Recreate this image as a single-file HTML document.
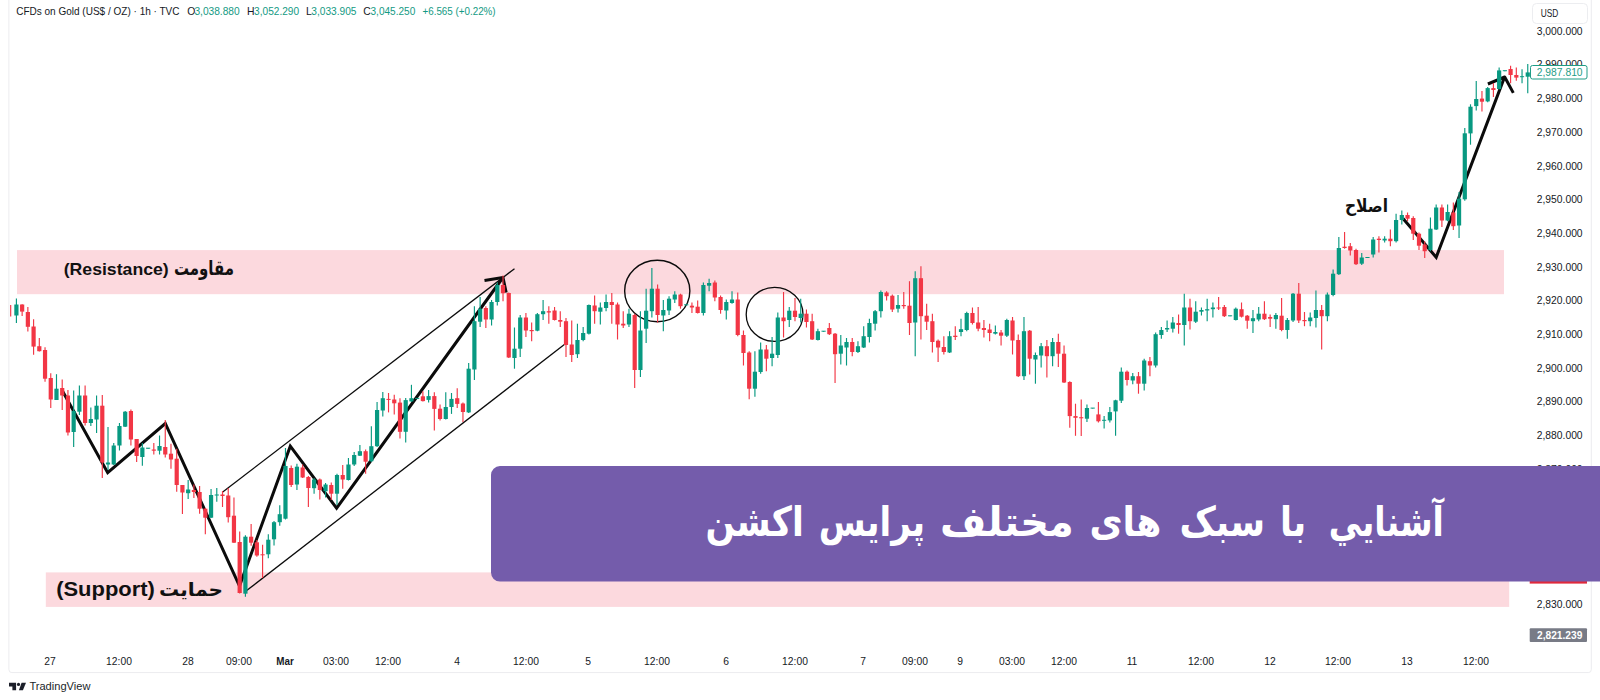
<!DOCTYPE html>
<html lang="fa">
<head>
<meta charset="utf-8">
<title>آشنایی با سبک های مختلف پرایس اکشن</title>
<style>
html,body{margin:0;padding:0;background:#fff;}
body{width:1600px;height:700px;overflow:hidden;position:relative;font-family:"Liberation Sans","DejaVu Sans",sans-serif;}
svg{position:absolute;left:0;top:0;}
text{font-family:"Liberation Sans","DejaVu Sans",sans-serif;}
.ax{font-size:10.3px;fill:#151924;}
.tm{font-size:10.3px;fill:#151924;text-anchor:middle;}
.ttl{font-size:10.4px;fill:#151924;}
.gv{fill:#139a83;}
.lbl{font-size:17px;font-weight:bold;fill:#111;}
.fa{font-family:"DejaVu Sans","Liberation Sans",sans-serif;}
</style>
</head>
<body>
<svg width="1600" height="700" viewBox="0 0 1600 700">
<rect width="1600" height="700" fill="#fff"/>
<!-- frame lines -->
<rect x="8.9" y="-6" width="1582.4" height="678.6" rx="3" fill="none" stroke="#ececef" stroke-width="1"/>
<!-- zones -->
<rect x="17" y="250.1" width="1487" height="44.1" fill="#fcd9de"/>
<rect x="45.8" y="572.4" width="1463.4" height="34.5" fill="#fcd9de"/>
<!-- title -->
<g class="ttl">
<text x="16.2" y="15" textLength="163.3" lengthAdjust="spacingAndGlyphs">CFDs on Gold (US$ / OZ) · 1h · TVC</text>
<text x="187.3" y="15">O</text><text class="gv" x="194.4" y="15" textLength="45.3" lengthAdjust="spacingAndGlyphs">3,038.880</text>
<text x="247" y="15">H</text><text class="gv" x="254.1" y="15" textLength="45" lengthAdjust="spacingAndGlyphs">3,052.290</text>
<text x="306.1" y="15">L</text><text class="gv" x="311.3" y="15" textLength="45.2" lengthAdjust="spacingAndGlyphs">3,033.905</text>
<text x="363.3" y="15">C</text><text class="gv" x="370.5" y="15" textLength="44.8" lengthAdjust="spacingAndGlyphs">3,045.250</text>
<text class="gv" x="422.5" y="15" textLength="73.1" lengthAdjust="spacingAndGlyphs">+6.565 (+0.22%)</text>
</g>
<!-- USD box -->
<rect x="1532.5" y="3.5" width="55" height="20" rx="4" fill="#fff" stroke="#ecedf0"/>
<text class="ax" x="1540.7" y="17.2" textLength="17.6" lengthAdjust="spacingAndGlyphs">USD</text>
<!-- price axis -->
<g class="ax" text-anchor="end">
<text x="1582.6" y="34.7">3,000.000</text>
<text x="1582.6" y="68.4">2,990.000</text>
<text x="1582.6" y="102.1">2,980.000</text>
<text x="1582.6" y="135.8">2,970.000</text>
<text x="1582.6" y="169.5">2,960.000</text>
<text x="1582.6" y="203.2">2,950.000</text>
<text x="1582.6" y="236.9">2,940.000</text>
<text x="1582.6" y="270.6">2,930.000</text>
<text x="1582.6" y="304.3">2,920.000</text>
<text x="1582.6" y="338">2,910.000</text>
<text x="1582.6" y="371.7">2,900.000</text>
<text x="1582.6" y="405.4">2,890.000</text>
<text x="1582.6" y="439.1">2,880.000</text>
<text x="1582.6" y="472.8">2,870.000</text>
<text x="1582.6" y="607.6">2,830.000</text>
</g>
<!-- time axis -->
<g class="tm">
<text x="50" y="665">27</text><text x="119" y="665">12:00</text><text x="188" y="665">28</text><text x="239" y="665">09:00</text>
<text x="285" y="665" style="font-weight:bold" textLength="17.5" lengthAdjust="spacingAndGlyphs">Mar</text><text x="336" y="665">03:00</text><text x="388" y="665">12:00</text><text x="457" y="665">4</text>
<text x="526" y="665">12:00</text><text x="588" y="665">5</text><text x="657" y="665">12:00</text><text x="726" y="665">6</text>
<text x="795" y="665">12:00</text><text x="863" y="665">7</text><text x="915" y="665">09:00</text><text x="960" y="665">9</text>
<text x="1012" y="665">03:00</text><text x="1064" y="665">12:00</text><text x="1132" y="665">11</text><text x="1201" y="665">12:00</text>
<text x="1270" y="665">12</text><text x="1338" y="665">12:00</text><text x="1407" y="665">13</text><text x="1476" y="665">12:00</text>
</g>
<g fill="none" stroke="#0b0b0b" stroke-linejoin="miter" stroke-linecap="butt">
<path d="M222.4 492.2L514.5 268.7" stroke-width="1.3"/>
<path d="M246 591.1L565 344" stroke-width="1.3"/>
<ellipse cx="657.25" cy="291" rx="32.6" ry="30.7" stroke-width="1.4"/>
<ellipse cx="774.6" cy="314.4" rx="28.4" ry="27" stroke-width="1.3"/>
<path d="M62.5 391L107.7 472.7L165.3 423.5L239.5 586L290.3 446.2L336.6 508.2L502.6 278" stroke-width="3"/>
<path d="M484.5 280.5L503 277.6L506.2 292.5" stroke-width="3" stroke-linejoin="round"/>
<path d="M1403 218.5L1436.2 257.3L1504.4 77.4" stroke-width="3"/>
<path d="M1487.9 84L1504.7 77L1513.3 92.9" stroke-width="3" stroke-linejoin="round"/>
</g>
<text class="lbl" x="63.7" y="274.9" style="font-size:16.5px" textLength="105" lengthAdjust="spacingAndGlyphs">(Resistance)</text>
<text class="lbl fa" x="174" y="275.4" style="font-size:20px" textLength="60" lengthAdjust="spacingAndGlyphs">مقاومت</text>
<text class="lbl" x="56.2" y="596.2" style="font-size:20.5px" textLength="98.7" lengthAdjust="spacingAndGlyphs">(Support)</text>
<text class="lbl fa" x="159" y="596" style="font-size:19px" textLength="64" lengthAdjust="spacingAndGlyphs">حمایت</text>
<text class="lbl fa" x="1345" y="212" style="font-size:17.8px" textLength="43" lengthAdjust="spacingAndGlyphs">اصلاح</text>
<!-- candles -->
<g shape-rendering="auto">
<path d="M10.69 305.0V316.4" stroke="#F23645" stroke-width="1.15"/>
<path d="M16.41 298.5V323.0" stroke="#089981" stroke-width="1.15"/>
<rect x="14.31" y="304.5" width="4.2" height="11.0" fill="#089981"/>
<path d="M22.14 304.2V316.0" stroke="#F23645" stroke-width="1.15"/>
<rect x="20.04" y="304.5" width="4.2" height="7.1" fill="#F23645"/>
<path d="M27.86 307.0V331.5" stroke="#F23645" stroke-width="1.15"/>
<rect x="25.76" y="312.0" width="4.2" height="14.8" fill="#F23645"/>
<path d="M33.59 319.2V354.7" stroke="#F23645" stroke-width="1.15"/>
<rect x="31.49" y="326.5" width="4.2" height="20.1" fill="#F23645"/>
<path d="M39.31 338.0V351.5" stroke="#F23645" stroke-width="1.15"/>
<rect x="37.21" y="346.2" width="4.2" height="5.0" fill="#F23645"/>
<path d="M45.04 347.2V381.7" stroke="#F23645" stroke-width="1.15"/>
<rect x="42.94" y="350.0" width="4.2" height="28.7" fill="#F23645"/>
<path d="M50.76 373.2V408.0" stroke="#F23645" stroke-width="1.15"/>
<rect x="48.66" y="378.0" width="4.2" height="21.5" fill="#F23645"/>
<path d="M56.49 374.2V400.0" stroke="#089981" stroke-width="1.15"/>
<rect x="54.39" y="388.7" width="4.2" height="11.3" fill="#089981"/>
<path d="M62.21 379.5V410.0" stroke="#F23645" stroke-width="1.15"/>
<rect x="60.11" y="388.0" width="4.2" height="7.5" fill="#F23645"/>
<path d="M67.94 390.0V435.5" stroke="#F23645" stroke-width="1.15"/>
<rect x="65.84" y="395.5" width="4.2" height="37.0" fill="#F23645"/>
<path d="M73.66 390.5V447.0" stroke="#089981" stroke-width="1.15"/>
<rect x="71.56" y="411.0" width="4.2" height="21.0" fill="#089981"/>
<path d="M79.39 385.5V415.0" stroke="#089981" stroke-width="1.15"/>
<rect x="77.29" y="395.5" width="4.2" height="16.2" fill="#089981"/>
<path d="M85.11 385.5V425.5" stroke="#F23645" stroke-width="1.15"/>
<rect x="83.01" y="395.5" width="4.2" height="27.5" fill="#F23645"/>
<path d="M90.84 407.5V426.0" stroke="#089981" stroke-width="1.15"/>
<rect x="88.74" y="419.0" width="4.2" height="4.0" fill="#089981"/>
<path d="M96.56 395.5V433.0" stroke="#089981" stroke-width="1.15"/>
<rect x="94.46" y="405.7" width="4.2" height="13.8" fill="#089981"/>
<path d="M102.29 395.0V478.0" stroke="#F23645" stroke-width="1.15"/>
<rect x="100.19" y="405.7" width="4.2" height="56.8" fill="#F23645"/>
<path d="M108.01 427.0V470.0" stroke="#089981" stroke-width="1.15"/>
<rect x="105.91" y="462.5" width="4.2" height="2.0" fill="#089981"/>
<path d="M113.74 443.0V465.0" stroke="#089981" stroke-width="1.15"/>
<rect x="111.64" y="445.5" width="4.2" height="19.0" fill="#089981"/>
<path d="M119.46 423.0V450.5" stroke="#089981" stroke-width="1.15"/>
<rect x="117.36" y="426.0" width="4.2" height="19.5" fill="#089981"/>
<path d="M125.19 411.0V427.0" stroke="#089981" stroke-width="1.15"/>
<rect x="123.09" y="411.7" width="4.2" height="15.0" fill="#089981"/>
<path d="M130.91 409.5V445.5" stroke="#F23645" stroke-width="1.15"/>
<rect x="128.81" y="411.0" width="4.2" height="28.5" fill="#F23645"/>
<path d="M136.64 439.0V462.0" stroke="#F23645" stroke-width="1.15"/>
<rect x="134.54" y="439.0" width="4.2" height="17.0" fill="#F23645"/>
<path d="M142.36 443.0V465.7" stroke="#089981" stroke-width="1.15"/>
<rect x="140.26" y="447.5" width="4.2" height="9.5" fill="#089981"/>
<path d="M148.09 448.0V448.7" stroke="#089981" stroke-width="1.15"/>
<rect x="145.99" y="447.7" width="4.2" height="1.0" fill="#089981"/>
<path d="M153.81 443.0V454.5" stroke="#F23645" stroke-width="1.15"/>
<rect x="151.71" y="449.5" width="4.2" height="1.2" fill="#F23645"/>
<path d="M159.53 435.5V454.5" stroke="#089981" stroke-width="1.15"/>
<rect x="157.43" y="446.0" width="4.2" height="4.7" fill="#089981"/>
<path d="M165.26 420.0V457.5" stroke="#F23645" stroke-width="1.15"/>
<rect x="163.16" y="447.0" width="4.2" height="7.5" fill="#F23645"/>
<path d="M170.98 443.7V468.7" stroke="#F23645" stroke-width="1.15"/>
<rect x="168.88" y="453.7" width="4.2" height="5.8" fill="#F23645"/>
<path d="M176.71 448.7V491.7" stroke="#F23645" stroke-width="1.15"/>
<rect x="174.61" y="458.7" width="4.2" height="26.3" fill="#F23645"/>
<path d="M182.43 485.0V514.0" stroke="#F23645" stroke-width="1.15"/>
<rect x="180.33" y="485.0" width="4.2" height="7.5" fill="#F23645"/>
<path d="M188.16 480.0V499.0" stroke="#089981" stroke-width="1.15"/>
<rect x="186.06" y="489.5" width="4.2" height="3.7" fill="#089981"/>
<path d="M193.88 484.5V498.0" stroke="#F23645" stroke-width="1.15"/>
<rect x="191.78" y="490.0" width="4.2" height="2.0" fill="#F23645"/>
<path d="M199.61 486.0V513.7" stroke="#F23645" stroke-width="1.15"/>
<rect x="197.51" y="492.0" width="4.2" height="16.7" fill="#F23645"/>
<path d="M205.33 508.0V534.2" stroke="#F23645" stroke-width="1.15"/>
<rect x="203.23" y="508.7" width="4.2" height="9.0" fill="#F23645"/>
<path d="M211.06 489.0V518.0" stroke="#089981" stroke-width="1.15"/>
<rect x="208.96" y="495.0" width="4.2" height="22.7" fill="#089981"/>
<path d="M216.78 488.0V501.7" stroke="#089981" stroke-width="1.15"/>
<rect x="214.68" y="494.5" width="4.2" height="1.0" fill="#089981"/>
<path d="M222.51 491.0V507.0" stroke="#F23645" stroke-width="1.15"/>
<rect x="220.41" y="494.5" width="4.2" height="1.5" fill="#F23645"/>
<path d="M228.23 488.0V522.5" stroke="#F23645" stroke-width="1.15"/>
<rect x="226.13" y="495.5" width="4.2" height="21.7" fill="#F23645"/>
<path d="M233.96 497.5V543.0" stroke="#F23645" stroke-width="1.15"/>
<rect x="231.86" y="515.7" width="4.2" height="27.0" fill="#F23645"/>
<path d="M239.68 531.5V593.5" stroke="#F23645" stroke-width="1.15"/>
<rect x="237.58" y="542.0" width="4.2" height="51.0" fill="#F23645"/>
<path d="M245.41 535.2V596.7" stroke="#089981" stroke-width="1.15"/>
<rect x="243.31" y="536.7" width="4.2" height="57.0" fill="#089981"/>
<path d="M251.13 524.0V545.7" stroke="#F23645" stroke-width="1.15"/>
<rect x="249.03" y="536.7" width="4.2" height="6.0" fill="#F23645"/>
<path d="M256.86 540.0V556.7" stroke="#F23645" stroke-width="1.15"/>
<rect x="254.76" y="542.3" width="4.2" height="13.2" fill="#F23645"/>
<path d="M262.58 544.7V578.0" stroke="#F23645" stroke-width="1.15"/>
<rect x="260.48" y="554.3" width="4.2" height="1.0" fill="#F23645"/>
<path d="M268.31 534.2V558.2" stroke="#089981" stroke-width="1.15"/>
<rect x="266.21" y="539.7" width="4.2" height="14.6" fill="#089981"/>
<path d="M274.03 521.0V545.5" stroke="#089981" stroke-width="1.15"/>
<rect x="271.93" y="522.2" width="4.2" height="17.1" fill="#089981"/>
<path d="M279.76 505.2V525.8" stroke="#089981" stroke-width="1.15"/>
<rect x="277.66" y="514.2" width="4.2" height="8.0" fill="#089981"/>
<path d="M285.48 448.0V519.5" stroke="#089981" stroke-width="1.15"/>
<rect x="283.38" y="466.0" width="4.2" height="52.7" fill="#089981"/>
<path d="M291.21 465.5V487.0" stroke="#F23645" stroke-width="1.15"/>
<rect x="289.11" y="468.0" width="4.2" height="17.0" fill="#F23645"/>
<path d="M296.93 463.7V490.0" stroke="#089981" stroke-width="1.15"/>
<rect x="294.83" y="466.7" width="4.2" height="17.8" fill="#089981"/>
<path d="M302.65 464.5V478.0" stroke="#F23645" stroke-width="1.15"/>
<rect x="300.55" y="467.5" width="4.2" height="10.0" fill="#F23645"/>
<path d="M308.38 476.0V507.0" stroke="#F23645" stroke-width="1.15"/>
<rect x="306.28" y="477.0" width="4.2" height="11.0" fill="#F23645"/>
<path d="M314.10 478.0V493.7" stroke="#089981" stroke-width="1.15"/>
<rect x="312.00" y="479.5" width="4.2" height="8.7" fill="#089981"/>
<path d="M319.83 478.5V499.5" stroke="#F23645" stroke-width="1.15"/>
<rect x="317.73" y="479.5" width="4.2" height="10.5" fill="#F23645"/>
<path d="M325.55 483.0V497.5" stroke="#089981" stroke-width="1.15"/>
<rect x="323.45" y="484.5" width="4.2" height="6.7" fill="#089981"/>
<path d="M331.28 482.5V500.0" stroke="#F23645" stroke-width="1.15"/>
<rect x="329.18" y="485.0" width="4.2" height="8.7" fill="#F23645"/>
<path d="M337.00 473.7V505.0" stroke="#089981" stroke-width="1.15"/>
<rect x="334.90" y="475.0" width="4.2" height="18.7" fill="#089981"/>
<path d="M342.73 465.0V488.7" stroke="#F23645" stroke-width="1.15"/>
<rect x="340.63" y="475.0" width="4.2" height="4.5" fill="#F23645"/>
<path d="M348.45 458.0V480.5" stroke="#089981" stroke-width="1.15"/>
<rect x="346.35" y="464.5" width="4.2" height="15.5" fill="#089981"/>
<path d="M354.18 452.0V466.0" stroke="#089981" stroke-width="1.15"/>
<rect x="352.08" y="455.0" width="4.2" height="9.5" fill="#089981"/>
<path d="M359.90 445.0V456.0" stroke="#089981" stroke-width="1.15"/>
<rect x="357.80" y="451.2" width="4.2" height="4.5" fill="#089981"/>
<path d="M365.63 449.5V473.7" stroke="#F23645" stroke-width="1.15"/>
<rect x="363.53" y="451.2" width="4.2" height="10.5" fill="#F23645"/>
<path d="M371.35 426.2V462.0" stroke="#089981" stroke-width="1.15"/>
<rect x="369.25" y="446.2" width="4.2" height="15.0" fill="#089981"/>
<path d="M377.08 402.0V447.0" stroke="#089981" stroke-width="1.15"/>
<rect x="374.98" y="410.0" width="4.2" height="36.2" fill="#089981"/>
<path d="M382.80 392.0V416.5" stroke="#089981" stroke-width="1.15"/>
<rect x="380.70" y="398.2" width="4.2" height="12.3" fill="#089981"/>
<path d="M388.53 393.0V412.4" stroke="#F23645" stroke-width="1.15"/>
<rect x="386.43" y="398.9" width="4.2" height="1.0" fill="#F23645"/>
<path d="M394.25 394.8V414.6" stroke="#F23645" stroke-width="1.15"/>
<rect x="392.15" y="399.5" width="4.2" height="3.8" fill="#F23645"/>
<path d="M399.98 398.2V438.5" stroke="#F23645" stroke-width="1.15"/>
<rect x="397.88" y="402.6" width="4.2" height="29.2" fill="#F23645"/>
<path d="M405.70 398.0V442.6" stroke="#089981" stroke-width="1.15"/>
<rect x="403.60" y="400.1" width="4.2" height="31.7" fill="#089981"/>
<path d="M411.43 384.8V402.0" stroke="#089981" stroke-width="1.15"/>
<rect x="409.33" y="398.2" width="4.2" height="3.2" fill="#089981"/>
<path d="M417.15 398.4V398.9" stroke="#089981" stroke-width="1.15"/>
<rect x="415.05" y="397.9" width="4.2" height="1.0" fill="#089981"/>
<path d="M422.88 391.3V401.6" stroke="#F23645" stroke-width="1.15"/>
<rect x="420.78" y="396.3" width="4.2" height="4.8" fill="#F23645"/>
<path d="M428.60 390.0V402.6" stroke="#089981" stroke-width="1.15"/>
<rect x="426.50" y="396.1" width="4.2" height="3.8" fill="#089981"/>
<path d="M434.33 392.2V430.5" stroke="#F23645" stroke-width="1.15"/>
<rect x="432.23" y="396.1" width="4.2" height="12.8" fill="#F23645"/>
<path d="M440.05 404.5V420.5" stroke="#F23645" stroke-width="1.15"/>
<rect x="437.95" y="408.7" width="4.2" height="10.3" fill="#F23645"/>
<path d="M445.77 392.2V419.6" stroke="#089981" stroke-width="1.15"/>
<rect x="443.67" y="407.0" width="4.2" height="12.0" fill="#089981"/>
<path d="M451.50 393.0V413.9" stroke="#089981" stroke-width="1.15"/>
<rect x="449.40" y="398.9" width="4.2" height="8.1" fill="#089981"/>
<path d="M457.22 388.2V407.9" stroke="#F23645" stroke-width="1.15"/>
<rect x="455.12" y="398.2" width="4.2" height="5.7" fill="#F23645"/>
<path d="M462.95 402.6V422.1" stroke="#F23645" stroke-width="1.15"/>
<rect x="460.85" y="403.5" width="4.2" height="8.5" fill="#F23645"/>
<path d="M468.67 363.0V413.0" stroke="#089981" stroke-width="1.15"/>
<rect x="466.57" y="368.7" width="4.2" height="43.7" fill="#089981"/>
<path d="M474.40 306.2V380.0" stroke="#089981" stroke-width="1.15"/>
<rect x="472.30" y="321.2" width="4.2" height="48.3" fill="#089981"/>
<path d="M480.12 297.0V327.0" stroke="#089981" stroke-width="1.15"/>
<rect x="478.02" y="308.7" width="4.2" height="13.0" fill="#089981"/>
<path d="M485.85 306.2V328.0" stroke="#F23645" stroke-width="1.15"/>
<rect x="483.75" y="308.0" width="4.2" height="11.5" fill="#F23645"/>
<path d="M491.57 300.0V325.5" stroke="#089981" stroke-width="1.15"/>
<rect x="489.47" y="302.0" width="4.2" height="17.5" fill="#089981"/>
<path d="M497.30 282.5V305.5" stroke="#089981" stroke-width="1.15"/>
<rect x="495.20" y="285.0" width="4.2" height="17.0" fill="#089981"/>
<path d="M503.02 275.5V301.2" stroke="#F23645" stroke-width="1.15"/>
<rect x="500.92" y="285.0" width="4.2" height="8.2" fill="#F23645"/>
<path d="M508.75 292.5V358.0" stroke="#F23645" stroke-width="1.15"/>
<rect x="506.65" y="293.0" width="4.2" height="64.5" fill="#F23645"/>
<path d="M514.47 327.5V368.7" stroke="#089981" stroke-width="1.15"/>
<rect x="512.37" y="348.7" width="4.2" height="9.3" fill="#089981"/>
<path d="M520.20 315.0V357.0" stroke="#089981" stroke-width="1.15"/>
<rect x="518.10" y="317.5" width="4.2" height="31.2" fill="#089981"/>
<path d="M525.92 313.0V337.0" stroke="#F23645" stroke-width="1.15"/>
<rect x="523.82" y="317.5" width="4.2" height="13.0" fill="#F23645"/>
<path d="M531.65 322.5V341.2" stroke="#F23645" stroke-width="1.15"/>
<rect x="529.55" y="330.0" width="4.2" height="1.2" fill="#F23645"/>
<path d="M537.37 313.0V331.2" stroke="#089981" stroke-width="1.15"/>
<rect x="535.27" y="314.2" width="4.2" height="16.5" fill="#089981"/>
<path d="M543.10 300.0V320.0" stroke="#089981" stroke-width="1.15"/>
<rect x="541.00" y="311.2" width="4.2" height="3.0" fill="#089981"/>
<path d="M548.82 306.2V323.7" stroke="#F23645" stroke-width="1.15"/>
<rect x="546.72" y="311.2" width="4.2" height="1.3" fill="#F23645"/>
<path d="M554.55 307.0V320.5" stroke="#F23645" stroke-width="1.15"/>
<rect x="552.45" y="310.5" width="4.2" height="9.5" fill="#F23645"/>
<path d="M560.27 311.2V327.0" stroke="#F23645" stroke-width="1.15"/>
<rect x="558.17" y="320.0" width="4.2" height="1.7" fill="#F23645"/>
<path d="M566.00 318.0V357.0" stroke="#F23645" stroke-width="1.15"/>
<rect x="563.90" y="321.2" width="4.2" height="23.8" fill="#F23645"/>
<path d="M571.72 320.5V362.0" stroke="#F23645" stroke-width="1.15"/>
<rect x="569.62" y="344.5" width="4.2" height="10.5" fill="#F23645"/>
<path d="M577.45 323.7V358.0" stroke="#089981" stroke-width="1.15"/>
<rect x="575.35" y="340.0" width="4.2" height="14.2" fill="#089981"/>
<path d="M583.17 327.0V341.2" stroke="#089981" stroke-width="1.15"/>
<rect x="581.07" y="333.0" width="4.2" height="7.0" fill="#089981"/>
<path d="M588.89 304.5V334.5" stroke="#089981" stroke-width="1.15"/>
<rect x="586.79" y="305.0" width="4.2" height="28.7" fill="#089981"/>
<path d="M594.62 295.5V323.7" stroke="#F23645" stroke-width="1.15"/>
<rect x="592.52" y="305.5" width="4.2" height="5.7" fill="#F23645"/>
<path d="M600.34 302.5V324.5" stroke="#089981" stroke-width="1.15"/>
<rect x="598.24" y="307.5" width="4.2" height="4.2" fill="#089981"/>
<path d="M606.07 294.5V311.2" stroke="#089981" stroke-width="1.15"/>
<rect x="603.97" y="302.0" width="4.2" height="6.0" fill="#089981"/>
<path d="M611.79 293.0V323.7" stroke="#F23645" stroke-width="1.15"/>
<rect x="609.69" y="302.0" width="4.2" height="3.0" fill="#F23645"/>
<path d="M617.52 302.5V339.5" stroke="#F23645" stroke-width="1.15"/>
<rect x="615.42" y="304.5" width="4.2" height="20.0" fill="#F23645"/>
<path d="M623.24 311.2V328.0" stroke="#F23645" stroke-width="1.15"/>
<rect x="621.14" y="323.7" width="4.2" height="1.8" fill="#F23645"/>
<path d="M628.97 308.7V327.0" stroke="#089981" stroke-width="1.15"/>
<rect x="626.87" y="313.7" width="4.2" height="10.8" fill="#089981"/>
<path d="M634.69 313.7V388.0" stroke="#F23645" stroke-width="1.15"/>
<rect x="632.59" y="315.0" width="4.2" height="55.0" fill="#F23645"/>
<path d="M640.42 311.2V377.0" stroke="#089981" stroke-width="1.15"/>
<rect x="638.32" y="330.5" width="4.2" height="39.5" fill="#089981"/>
<path d="M646.14 288.7V343.0" stroke="#089981" stroke-width="1.15"/>
<rect x="644.04" y="310.7" width="4.2" height="18.0" fill="#089981"/>
<path d="M651.87 268.0V317.5" stroke="#089981" stroke-width="1.15"/>
<rect x="649.77" y="288.7" width="4.2" height="22.5" fill="#089981"/>
<path d="M657.59 284.5V322.5" stroke="#F23645" stroke-width="1.15"/>
<rect x="655.49" y="288.7" width="4.2" height="26.3" fill="#F23645"/>
<path d="M663.32 300.0V331.2" stroke="#089981" stroke-width="1.15"/>
<rect x="661.22" y="310.0" width="4.2" height="5.5" fill="#089981"/>
<path d="M669.04 296.2V315.0" stroke="#089981" stroke-width="1.15"/>
<rect x="666.94" y="298.7" width="4.2" height="11.8" fill="#089981"/>
<path d="M674.77 291.2V303.0" stroke="#089981" stroke-width="1.15"/>
<rect x="672.67" y="294.5" width="4.2" height="5.0" fill="#089981"/>
<path d="M680.49 293.7V308.7" stroke="#F23645" stroke-width="1.15"/>
<rect x="678.39" y="294.5" width="4.2" height="11.7" fill="#F23645"/>
<path d="M686.22 304.8V305.3" stroke="#089981" stroke-width="1.15"/>
<rect x="684.12" y="304.3" width="4.2" height="1.0" fill="#089981"/>
<path d="M691.94 302.5V313.0" stroke="#F23645" stroke-width="1.15"/>
<rect x="689.84" y="305.7" width="4.2" height="1.8" fill="#F23645"/>
<path d="M697.67 300.5V313.5" stroke="#F23645" stroke-width="1.15"/>
<rect x="695.57" y="306.7" width="4.2" height="6.3" fill="#F23645"/>
<path d="M703.39 282.5V315.5" stroke="#089981" stroke-width="1.15"/>
<rect x="701.29" y="285.0" width="4.2" height="28.0" fill="#089981"/>
<path d="M709.12 278.7V291.2" stroke="#089981" stroke-width="1.15"/>
<rect x="707.02" y="283.0" width="4.2" height="2.7" fill="#089981"/>
<path d="M714.84 280.5V301.2" stroke="#F23645" stroke-width="1.15"/>
<rect x="712.74" y="282.5" width="4.2" height="15.0" fill="#F23645"/>
<path d="M720.57 295.5V313.7" stroke="#F23645" stroke-width="1.15"/>
<rect x="718.47" y="297.0" width="4.2" height="13.0" fill="#F23645"/>
<path d="M726.29 299.5V319.5" stroke="#089981" stroke-width="1.15"/>
<rect x="724.19" y="302.0" width="4.2" height="8.5" fill="#089981"/>
<path d="M732.01 291.2V303.7" stroke="#089981" stroke-width="1.15"/>
<rect x="729.91" y="299.5" width="4.2" height="3.5" fill="#089981"/>
<path d="M737.74 292.5V336.2" stroke="#F23645" stroke-width="1.15"/>
<rect x="735.64" y="299.5" width="4.2" height="35.5" fill="#F23645"/>
<path d="M743.46 330.5V365.5" stroke="#F23645" stroke-width="1.15"/>
<rect x="741.36" y="335.0" width="4.2" height="18.0" fill="#F23645"/>
<path d="M749.19 351.2V399.2" stroke="#F23645" stroke-width="1.15"/>
<rect x="747.09" y="352.5" width="4.2" height="36.2" fill="#F23645"/>
<path d="M754.91 351.2V396.7" stroke="#089981" stroke-width="1.15"/>
<rect x="752.81" y="371.7" width="4.2" height="17.0" fill="#089981"/>
<path d="M760.64 342.5V373.7" stroke="#089981" stroke-width="1.15"/>
<rect x="758.54" y="349.5" width="4.2" height="22.5" fill="#089981"/>
<path d="M766.36 345.0V371.2" stroke="#F23645" stroke-width="1.15"/>
<rect x="764.26" y="349.5" width="4.2" height="9.2" fill="#F23645"/>
<path d="M772.09 337.0V366.2" stroke="#089981" stroke-width="1.15"/>
<rect x="769.99" y="353.7" width="4.2" height="4.3" fill="#089981"/>
<path d="M777.81 312.5V358.0" stroke="#089981" stroke-width="1.15"/>
<rect x="775.71" y="317.5" width="4.2" height="37.5" fill="#089981"/>
<path d="M783.54 292.0V337.5" stroke="#F23645" stroke-width="1.15"/>
<rect x="781.44" y="317.5" width="4.2" height="3.7" fill="#F23645"/>
<path d="M789.26 307.0V327.0" stroke="#089981" stroke-width="1.15"/>
<rect x="787.16" y="310.7" width="4.2" height="9.3" fill="#089981"/>
<path d="M794.99 298.0V321.2" stroke="#F23645" stroke-width="1.15"/>
<rect x="792.89" y="310.7" width="4.2" height="6.3" fill="#F23645"/>
<path d="M800.71 298.7V322.5" stroke="#089981" stroke-width="1.15"/>
<rect x="798.61" y="313.7" width="4.2" height="4.3" fill="#089981"/>
<path d="M806.44 309.5V327.5" stroke="#F23645" stroke-width="1.15"/>
<rect x="804.34" y="313.7" width="4.2" height="8.3" fill="#F23645"/>
<path d="M812.16 313.7V340.0" stroke="#F23645" stroke-width="1.15"/>
<rect x="810.06" y="321.2" width="4.2" height="18.3" fill="#F23645"/>
<path d="M817.89 328.7V340.5" stroke="#089981" stroke-width="1.15"/>
<rect x="815.79" y="331.2" width="4.2" height="8.8" fill="#089981"/>
<path d="M823.61 331.0V331.7" stroke="#089981" stroke-width="1.15"/>
<rect x="821.51" y="330.7" width="4.2" height="1.0" fill="#089981"/>
<path d="M829.34 323.0V335.0" stroke="#F23645" stroke-width="1.15"/>
<rect x="827.24" y="328.0" width="4.2" height="6.2" fill="#F23645"/>
<path d="M835.06 333.0V383.0" stroke="#F23645" stroke-width="1.15"/>
<rect x="832.96" y="333.7" width="4.2" height="20.5" fill="#F23645"/>
<path d="M840.79 335.0V364.5" stroke="#089981" stroke-width="1.15"/>
<rect x="838.69" y="345.5" width="4.2" height="8.2" fill="#089981"/>
<path d="M846.51 338.0V365.5" stroke="#089981" stroke-width="1.15"/>
<rect x="844.41" y="342.0" width="4.2" height="5.5" fill="#089981"/>
<path d="M852.24 338.0V356.2" stroke="#F23645" stroke-width="1.15"/>
<rect x="850.14" y="342.0" width="4.2" height="10.0" fill="#F23645"/>
<path d="M857.96 341.2V353.0" stroke="#089981" stroke-width="1.15"/>
<rect x="855.86" y="346.2" width="4.2" height="5.8" fill="#089981"/>
<path d="M863.69 326.2V348.0" stroke="#089981" stroke-width="1.15"/>
<rect x="861.59" y="336.2" width="4.2" height="11.3" fill="#089981"/>
<path d="M869.41 318.7V342.5" stroke="#089981" stroke-width="1.15"/>
<rect x="867.31" y="323.0" width="4.2" height="14.0" fill="#089981"/>
<path d="M875.13 310.0V330.5" stroke="#089981" stroke-width="1.15"/>
<rect x="873.03" y="311.2" width="4.2" height="12.5" fill="#089981"/>
<path d="M880.86 290.5V317.5" stroke="#089981" stroke-width="1.15"/>
<rect x="878.76" y="292.0" width="4.2" height="19.2" fill="#089981"/>
<path d="M886.58 291.2V300.5" stroke="#F23645" stroke-width="1.15"/>
<rect x="884.48" y="292.5" width="4.2" height="3.7" fill="#F23645"/>
<path d="M892.31 294.5V312.0" stroke="#F23645" stroke-width="1.15"/>
<rect x="890.21" y="295.7" width="4.2" height="13.8" fill="#F23645"/>
<path d="M898.03 295.0V312.5" stroke="#089981" stroke-width="1.15"/>
<rect x="895.93" y="305.0" width="4.2" height="3.7" fill="#089981"/>
<path d="M903.76 292.0V308.7" stroke="#F23645" stroke-width="1.15"/>
<rect x="901.66" y="305.0" width="4.2" height="1.2" fill="#F23645"/>
<path d="M909.48 281.2V335.0" stroke="#F23645" stroke-width="1.15"/>
<rect x="907.38" y="305.7" width="4.2" height="17.3" fill="#F23645"/>
<path d="M915.21 271.2V356.2" stroke="#089981" stroke-width="1.15"/>
<rect x="913.11" y="278.2" width="4.2" height="44.3" fill="#089981"/>
<path d="M920.93 266.2V339.5" stroke="#F23645" stroke-width="1.15"/>
<rect x="918.83" y="278.2" width="4.2" height="38.0" fill="#F23645"/>
<path d="M926.66 303.7V330.0" stroke="#F23645" stroke-width="1.15"/>
<rect x="924.56" y="315.7" width="4.2" height="6.0" fill="#F23645"/>
<path d="M932.38 313.7V352.5" stroke="#F23645" stroke-width="1.15"/>
<rect x="930.28" y="321.2" width="4.2" height="20.8" fill="#F23645"/>
<path d="M938.11 339.5V362.0" stroke="#F23645" stroke-width="1.15"/>
<rect x="936.01" y="340.7" width="4.2" height="6.8" fill="#F23645"/>
<path d="M943.83 336.2V354.5" stroke="#F23645" stroke-width="1.15"/>
<rect x="941.73" y="347.0" width="4.2" height="5.0" fill="#F23645"/>
<path d="M949.56 331.2V353.0" stroke="#089981" stroke-width="1.15"/>
<rect x="947.46" y="336.2" width="4.2" height="16.3" fill="#089981"/>
<path d="M955.28 326.2V340.0" stroke="#F23645" stroke-width="1.15"/>
<rect x="953.18" y="335.7" width="4.2" height="1.3" fill="#F23645"/>
<path d="M961.01 318.7V336.2" stroke="#089981" stroke-width="1.15"/>
<rect x="958.91" y="329.2" width="4.2" height="2.8" fill="#089981"/>
<path d="M966.73 311.7V331.2" stroke="#089981" stroke-width="1.15"/>
<rect x="964.63" y="313.0" width="4.2" height="17.0" fill="#089981"/>
<path d="M972.46 307.5V324.5" stroke="#F23645" stroke-width="1.15"/>
<rect x="970.36" y="313.0" width="4.2" height="10.0" fill="#F23645"/>
<path d="M978.18 307.0V331.2" stroke="#F23645" stroke-width="1.15"/>
<rect x="976.08" y="322.5" width="4.2" height="6.2" fill="#F23645"/>
<path d="M983.91 320.0V337.5" stroke="#F23645" stroke-width="1.15"/>
<rect x="981.81" y="328.0" width="4.2" height="2.0" fill="#F23645"/>
<path d="M989.63 323.7V341.2" stroke="#F23645" stroke-width="1.15"/>
<rect x="987.53" y="329.5" width="4.2" height="3.5" fill="#F23645"/>
<path d="M995.36 325.5V334.5" stroke="#089981" stroke-width="1.15"/>
<rect x="993.26" y="332.0" width="4.2" height="1.7" fill="#089981"/>
<path d="M1001.08 330.0V345.5" stroke="#F23645" stroke-width="1.15"/>
<rect x="998.98" y="332.5" width="4.2" height="3.2" fill="#F23645"/>
<path d="M1006.81 318.7V337.0" stroke="#089981" stroke-width="1.15"/>
<rect x="1004.71" y="320.0" width="4.2" height="15.7" fill="#089981"/>
<path d="M1012.53 317.0V354.5" stroke="#F23645" stroke-width="1.15"/>
<rect x="1010.43" y="320.5" width="4.2" height="20.0" fill="#F23645"/>
<path d="M1018.25 334.5V377.0" stroke="#F23645" stroke-width="1.15"/>
<rect x="1016.15" y="340.0" width="4.2" height="36.2" fill="#F23645"/>
<path d="M1023.98 317.0V380.0" stroke="#089981" stroke-width="1.15"/>
<rect x="1021.88" y="331.2" width="4.2" height="45.0" fill="#089981"/>
<path d="M1029.70 330.0V374.5" stroke="#F23645" stroke-width="1.15"/>
<rect x="1027.60" y="330.7" width="4.2" height="28.0" fill="#F23645"/>
<path d="M1035.43 352.5V383.7" stroke="#089981" stroke-width="1.15"/>
<rect x="1033.33" y="355.0" width="4.2" height="4.5" fill="#089981"/>
<path d="M1041.15 343.0V367.5" stroke="#089981" stroke-width="1.15"/>
<rect x="1039.05" y="346.2" width="4.2" height="9.3" fill="#089981"/>
<path d="M1046.88 340.0V377.5" stroke="#F23645" stroke-width="1.15"/>
<rect x="1044.78" y="346.2" width="4.2" height="10.0" fill="#F23645"/>
<path d="M1052.60 338.0V366.2" stroke="#089981" stroke-width="1.15"/>
<rect x="1050.50" y="342.0" width="4.2" height="14.2" fill="#089981"/>
<path d="M1058.33 333.7V367.0" stroke="#F23645" stroke-width="1.15"/>
<rect x="1056.23" y="342.0" width="4.2" height="11.7" fill="#F23645"/>
<path d="M1064.05 345.5V383.0" stroke="#F23645" stroke-width="1.15"/>
<rect x="1061.95" y="353.7" width="4.2" height="28.8" fill="#F23645"/>
<path d="M1069.78 381.2V427.7" stroke="#F23645" stroke-width="1.15"/>
<rect x="1067.68" y="382.0" width="4.2" height="34.1" fill="#F23645"/>
<path d="M1075.50 403.7V435.8" stroke="#F23645" stroke-width="1.15"/>
<rect x="1073.40" y="416.1" width="4.2" height="1.7" fill="#F23645"/>
<path d="M1081.23 399.4V436.0" stroke="#F23645" stroke-width="1.15"/>
<rect x="1079.13" y="417.2" width="4.2" height="1.1" fill="#F23645"/>
<path d="M1086.95 404.6V422.1" stroke="#089981" stroke-width="1.15"/>
<rect x="1084.85" y="408.0" width="4.2" height="10.7" fill="#089981"/>
<path d="M1092.68 408.0V408.6" stroke="#089981" stroke-width="1.15"/>
<rect x="1090.58" y="407.6" width="4.2" height="1.0" fill="#089981"/>
<path d="M1098.40 402.0V422.6" stroke="#F23645" stroke-width="1.15"/>
<rect x="1096.30" y="414.4" width="4.2" height="6.9" fill="#F23645"/>
<path d="M1104.13 416.1V428.6" stroke="#089981" stroke-width="1.15"/>
<rect x="1102.03" y="419.8" width="4.2" height="1.0" fill="#089981"/>
<path d="M1109.85 407.1V422.6" stroke="#089981" stroke-width="1.15"/>
<rect x="1107.75" y="412.1" width="4.2" height="8.3" fill="#089981"/>
<path d="M1115.58 399.8V435.8" stroke="#089981" stroke-width="1.15"/>
<rect x="1113.48" y="400.3" width="4.2" height="11.1" fill="#089981"/>
<path d="M1121.30 367.5V403.0" stroke="#089981" stroke-width="1.15"/>
<rect x="1119.20" y="371.7" width="4.2" height="29.0" fill="#089981"/>
<path d="M1127.03 370.5V385.5" stroke="#F23645" stroke-width="1.15"/>
<rect x="1124.93" y="371.7" width="4.2" height="8.3" fill="#F23645"/>
<path d="M1132.75 373.0V384.2" stroke="#089981" stroke-width="1.15"/>
<rect x="1130.65" y="376.2" width="4.2" height="4.3" fill="#089981"/>
<path d="M1138.48 372.0V393.7" stroke="#F23645" stroke-width="1.15"/>
<rect x="1136.38" y="376.2" width="4.2" height="7.5" fill="#F23645"/>
<path d="M1144.20 358.7V390.5" stroke="#089981" stroke-width="1.15"/>
<rect x="1142.10" y="360.5" width="4.2" height="23.2" fill="#089981"/>
<path d="M1149.93 357.0V376.2" stroke="#F23645" stroke-width="1.15"/>
<rect x="1147.83" y="361.2" width="4.2" height="4.3" fill="#F23645"/>
<path d="M1155.65 332.5V367.5" stroke="#089981" stroke-width="1.15"/>
<rect x="1153.55" y="334.2" width="4.2" height="31.3" fill="#089981"/>
<path d="M1161.37 327.0V338.7" stroke="#089981" stroke-width="1.15"/>
<rect x="1159.27" y="330.0" width="4.2" height="5.0" fill="#089981"/>
<path d="M1167.10 320.5V332.0" stroke="#089981" stroke-width="1.15"/>
<rect x="1165.00" y="328.0" width="4.2" height="1.5" fill="#089981"/>
<path d="M1172.82 317.0V332.5" stroke="#089981" stroke-width="1.15"/>
<rect x="1170.72" y="322.5" width="4.2" height="6.2" fill="#089981"/>
<path d="M1178.55 314.5V333.7" stroke="#F23645" stroke-width="1.15"/>
<rect x="1176.45" y="323.0" width="4.2" height="2.0" fill="#F23645"/>
<path d="M1184.27 293.7V345.5" stroke="#089981" stroke-width="1.15"/>
<rect x="1182.17" y="307.5" width="4.2" height="17.5" fill="#089981"/>
<path d="M1190.00 298.7V329.5" stroke="#F23645" stroke-width="1.15"/>
<rect x="1187.90" y="307.5" width="4.2" height="13.7" fill="#F23645"/>
<path d="M1195.72 301.2V323.0" stroke="#089981" stroke-width="1.15"/>
<rect x="1193.62" y="311.7" width="4.2" height="10.0" fill="#089981"/>
<path d="M1201.45 307.5V315.5" stroke="#089981" stroke-width="1.15"/>
<rect x="1199.35" y="310.0" width="4.2" height="1.7" fill="#089981"/>
<path d="M1207.17 298.7V321.2" stroke="#089981" stroke-width="1.15"/>
<rect x="1205.07" y="309.2" width="4.2" height="1.3" fill="#089981"/>
<path d="M1212.90 302.5V317.5" stroke="#089981" stroke-width="1.15"/>
<rect x="1210.80" y="307.5" width="4.2" height="1.7" fill="#089981"/>
<path d="M1218.62 297.0V310.0" stroke="#F23645" stroke-width="1.15"/>
<rect x="1216.52" y="307.5" width="4.2" height="1.0" fill="#F23645"/>
<path d="M1224.35 305.0V317.0" stroke="#F23645" stroke-width="1.15"/>
<rect x="1222.25" y="307.0" width="4.2" height="9.2" fill="#F23645"/>
<path d="M1230.07 315.7V316.3" stroke="#089981" stroke-width="1.15"/>
<rect x="1227.97" y="315.3" width="4.2" height="1.0" fill="#089981"/>
<path d="M1235.80 307.5V320.5" stroke="#089981" stroke-width="1.15"/>
<rect x="1233.70" y="308.7" width="4.2" height="11.3" fill="#089981"/>
<path d="M1241.52 302.5V317.5" stroke="#F23645" stroke-width="1.15"/>
<rect x="1239.42" y="309.2" width="4.2" height="7.5" fill="#F23645"/>
<path d="M1247.25 315.0V328.7" stroke="#F23645" stroke-width="1.15"/>
<rect x="1245.15" y="315.7" width="4.2" height="5.0" fill="#F23645"/>
<path d="M1252.97 310.0V333.0" stroke="#089981" stroke-width="1.15"/>
<rect x="1250.87" y="318.2" width="4.2" height="3.0" fill="#089981"/>
<path d="M1258.70 307.0V321.2" stroke="#089981" stroke-width="1.15"/>
<rect x="1256.60" y="313.7" width="4.2" height="5.8" fill="#089981"/>
<path d="M1264.42 301.2V320.0" stroke="#F23645" stroke-width="1.15"/>
<rect x="1262.32" y="313.7" width="4.2" height="5.5" fill="#F23645"/>
<path d="M1270.15 314.5V327.0" stroke="#F23645" stroke-width="1.15"/>
<rect x="1268.05" y="317.0" width="4.2" height="1.7" fill="#F23645"/>
<path d="M1275.87 313.0V328.7" stroke="#089981" stroke-width="1.15"/>
<rect x="1273.77" y="315.0" width="4.2" height="4.2" fill="#089981"/>
<path d="M1281.60 298.0V331.2" stroke="#F23645" stroke-width="1.15"/>
<rect x="1279.50" y="315.7" width="4.2" height="14.3" fill="#F23645"/>
<path d="M1287.32 318.0V338.7" stroke="#089981" stroke-width="1.15"/>
<rect x="1285.22" y="320.0" width="4.2" height="10.0" fill="#089981"/>
<path d="M1293.05 293.0V322.0" stroke="#089981" stroke-width="1.15"/>
<rect x="1290.95" y="293.7" width="4.2" height="26.8" fill="#089981"/>
<path d="M1298.77 283.0V323.0" stroke="#F23645" stroke-width="1.15"/>
<rect x="1296.67" y="293.7" width="4.2" height="26.8" fill="#F23645"/>
<path d="M1304.49 312.0V326.2" stroke="#F23645" stroke-width="1.15"/>
<rect x="1302.39" y="320.0" width="4.2" height="1.2" fill="#F23645"/>
<path d="M1310.22 312.5V326.2" stroke="#089981" stroke-width="1.15"/>
<rect x="1308.12" y="317.5" width="4.2" height="3.7" fill="#089981"/>
<path d="M1315.94 290.5V327.5" stroke="#089981" stroke-width="1.15"/>
<rect x="1313.84" y="310.0" width="4.2" height="8.0" fill="#089981"/>
<path d="M1321.67 305.0V349.5" stroke="#F23645" stroke-width="1.15"/>
<rect x="1319.57" y="310.0" width="4.2" height="6.2" fill="#F23645"/>
<path d="M1327.39 292.5V321.2" stroke="#089981" stroke-width="1.15"/>
<rect x="1325.29" y="294.5" width="4.2" height="21.7" fill="#089981"/>
<path d="M1333.12 269.5V296.2" stroke="#089981" stroke-width="1.15"/>
<rect x="1331.02" y="273.7" width="4.2" height="21.3" fill="#089981"/>
<path d="M1338.84 237.0V275.0" stroke="#089981" stroke-width="1.15"/>
<rect x="1336.74" y="248.0" width="4.2" height="26.2" fill="#089981"/>
<path d="M1344.57 232.0V248.7" stroke="#F23645" stroke-width="1.15"/>
<rect x="1342.47" y="246.7" width="4.2" height="1.3" fill="#F23645"/>
<path d="M1350.29 243.0V255.5" stroke="#F23645" stroke-width="1.15"/>
<rect x="1348.19" y="246.2" width="4.2" height="4.3" fill="#F23645"/>
<path d="M1356.02 248.7V265.0" stroke="#F23645" stroke-width="1.15"/>
<rect x="1353.92" y="250.0" width="4.2" height="14.2" fill="#F23645"/>
<path d="M1361.74 253.0V265.0" stroke="#089981" stroke-width="1.15"/>
<rect x="1359.64" y="257.5" width="4.2" height="6.2" fill="#089981"/>
<path d="M1367.47 257.5V258.0" stroke="#089981" stroke-width="1.15"/>
<rect x="1365.37" y="257.0" width="4.2" height="1.0" fill="#089981"/>
<path d="M1373.19 237.0V257.5" stroke="#089981" stroke-width="1.15"/>
<rect x="1371.09" y="239.5" width="4.2" height="15.0" fill="#089981"/>
<path d="M1378.92 236.2V252.5" stroke="#F23645" stroke-width="1.15"/>
<rect x="1376.82" y="238.7" width="4.2" height="1.3" fill="#F23645"/>
<path d="M1384.64 236.2V242.5" stroke="#089981" stroke-width="1.15"/>
<rect x="1382.54" y="238.7" width="4.2" height="1.8" fill="#089981"/>
<path d="M1390.37 229.5V246.2" stroke="#F23645" stroke-width="1.15"/>
<rect x="1388.27" y="238.7" width="4.2" height="2.5" fill="#F23645"/>
<path d="M1396.09 213.7V242.5" stroke="#089981" stroke-width="1.15"/>
<rect x="1393.99" y="220.0" width="4.2" height="21.2" fill="#089981"/>
<path d="M1401.82 210.5V224.5" stroke="#089981" stroke-width="1.15"/>
<rect x="1399.72" y="215.0" width="4.2" height="5.0" fill="#089981"/>
<path d="M1407.54 212.5V221.2" stroke="#F23645" stroke-width="1.15"/>
<rect x="1405.44" y="215.0" width="4.2" height="3.7" fill="#F23645"/>
<path d="M1413.27 216.2V240.0" stroke="#F23645" stroke-width="1.15"/>
<rect x="1411.17" y="218.0" width="4.2" height="15.7" fill="#F23645"/>
<path d="M1418.99 232.5V250.0" stroke="#F23645" stroke-width="1.15"/>
<rect x="1416.89" y="233.7" width="4.2" height="12.0" fill="#F23645"/>
<path d="M1424.72 241.2V258.0" stroke="#F23645" stroke-width="1.15"/>
<rect x="1422.62" y="244.5" width="4.2" height="6.7" fill="#F23645"/>
<path d="M1430.44 217.5V251.2" stroke="#089981" stroke-width="1.15"/>
<rect x="1428.34" y="228.7" width="4.2" height="21.3" fill="#089981"/>
<path d="M1436.17 204.5V230.0" stroke="#089981" stroke-width="1.15"/>
<rect x="1434.07" y="207.5" width="4.2" height="22.0" fill="#089981"/>
<path d="M1441.89 204.5V227.0" stroke="#F23645" stroke-width="1.15"/>
<rect x="1439.79" y="207.5" width="4.2" height="13.0" fill="#F23645"/>
<path d="M1447.61 204.5V221.2" stroke="#089981" stroke-width="1.15"/>
<rect x="1445.51" y="212.0" width="4.2" height="8.5" fill="#089981"/>
<path d="M1453.34 202.5V230.0" stroke="#F23645" stroke-width="1.15"/>
<rect x="1451.24" y="212.5" width="4.2" height="13.7" fill="#F23645"/>
<path d="M1459.06 192.1V238.0" stroke="#089981" stroke-width="1.15"/>
<rect x="1456.96" y="198.6" width="4.2" height="26.9" fill="#089981"/>
<path d="M1464.79 128.1V200.7" stroke="#089981" stroke-width="1.15"/>
<rect x="1462.69" y="133.3" width="4.2" height="66.0" fill="#089981"/>
<path d="M1470.51 104.3V144.7" stroke="#089981" stroke-width="1.15"/>
<rect x="1468.41" y="106.7" width="4.2" height="26.7" fill="#089981"/>
<path d="M1476.24 81.1V110.4" stroke="#089981" stroke-width="1.15"/>
<rect x="1474.14" y="99.0" width="4.2" height="7.1" fill="#089981"/>
<path d="M1481.96 91.0V111.4" stroke="#F23645" stroke-width="1.15"/>
<rect x="1479.86" y="98.6" width="4.2" height="3.1" fill="#F23645"/>
<path d="M1487.69 87.0V102.2" stroke="#089981" stroke-width="1.15"/>
<rect x="1485.59" y="88.1" width="4.2" height="13.3" fill="#089981"/>
<path d="M1493.41 82.9V97.1" stroke="#F23645" stroke-width="1.15"/>
<rect x="1491.31" y="88.1" width="4.2" height="1.9" fill="#F23645"/>
<path d="M1499.14 67.6V89.4" stroke="#089981" stroke-width="1.15"/>
<rect x="1497.04" y="70.4" width="4.2" height="18.6" fill="#089981"/>
<path d="M1504.86 70.7V71.2" stroke="#089981" stroke-width="1.15"/>
<rect x="1502.76" y="70.2" width="4.2" height="1.0" fill="#089981"/>
<path d="M1510.59 65.7V83.3" stroke="#F23645" stroke-width="1.15"/>
<rect x="1508.49" y="69.0" width="4.2" height="6.0" fill="#F23645"/>
<path d="M1516.31 67.6V80.7" stroke="#F23645" stroke-width="1.15"/>
<rect x="1514.21" y="75.0" width="4.2" height="2.6" fill="#F23645"/>
<path d="M1522.04 69.3V83.3" stroke="#089981" stroke-width="1.15"/>
<rect x="1519.94" y="76.2" width="4.2" height="1.0" fill="#089981"/>
<path d="M1527.76 63.9V93.3" stroke="#089981" stroke-width="1.15"/>
<rect x="1525.66" y="72.4" width="4.2" height="4.3" fill="#089981"/>
</g>

<!-- price labels -->
<rect x="1530.5" y="65.5" width="56.5" height="13.5" rx="2" fill="#fff" stroke="#1f9d86"/>
<text class="ax" x="1582.6" y="75.8" text-anchor="end" style="fill:#1f9d86">2,987.810</text>
<rect x="1529.7" y="578" width="57.3" height="5.6" fill="#e0283b"/>
<rect x="1529.7" y="628.2" width="57.3" height="13.8" rx="1" fill="#787b86"/>
<text class="ax" x="1537" y="638.8" textLength="45.4" lengthAdjust="spacingAndGlyphs" style="fill:#fff;font-weight:bold">2,821.239</text>
<!-- logo -->
<g fill="#1c1f2a">
<path d="M9 682.8h7.1v7.5h-3.7v-3.9H9z"/>
<circle cx="18.5" cy="684.4" r="1.6"/>
<path d="M21.6 682.8h4.4l-3.1 7.5h-4z"/>
</g>
<text x="29.4" y="690.3" textLength="61" lengthAdjust="spacingAndGlyphs" style="font-size:10.3px;fill:#1c1f2a">TradingView</text>
<!-- banner -->
<path d="M500 466.1H1600V581.6H500a9 9 0 0 1-9-9V475.1a9 9 0 0 1 9-9z" fill="#745cab"/>
<g class="fa" style="font-size:41px;font-weight:bold;fill:#fff">
<text x="1328.75" y="536.3" textLength="115.0" lengthAdjust="spacingAndGlyphs">آشنایي</text>
<text x="1280" y="536.3" textLength="26.25" lengthAdjust="spacingAndGlyphs">با</text>
<text x="1179.5" y="536.3" textLength="85.5" lengthAdjust="spacingAndGlyphs">سبک</text>
<text x="1089.5" y="536.3" textLength="71.75" lengthAdjust="spacingAndGlyphs">های</text>
<text x="940" y="536.3" textLength="133.75" lengthAdjust="spacingAndGlyphs">مختلف</text>
<text x="818.75" y="536.3" textLength="106.25" lengthAdjust="spacingAndGlyphs">پرایس</text>
<text x="705.5" y="536.3" textLength="98.25" lengthAdjust="spacingAndGlyphs">اکشن</text>
</g>
</svg>
</body>
</html>
